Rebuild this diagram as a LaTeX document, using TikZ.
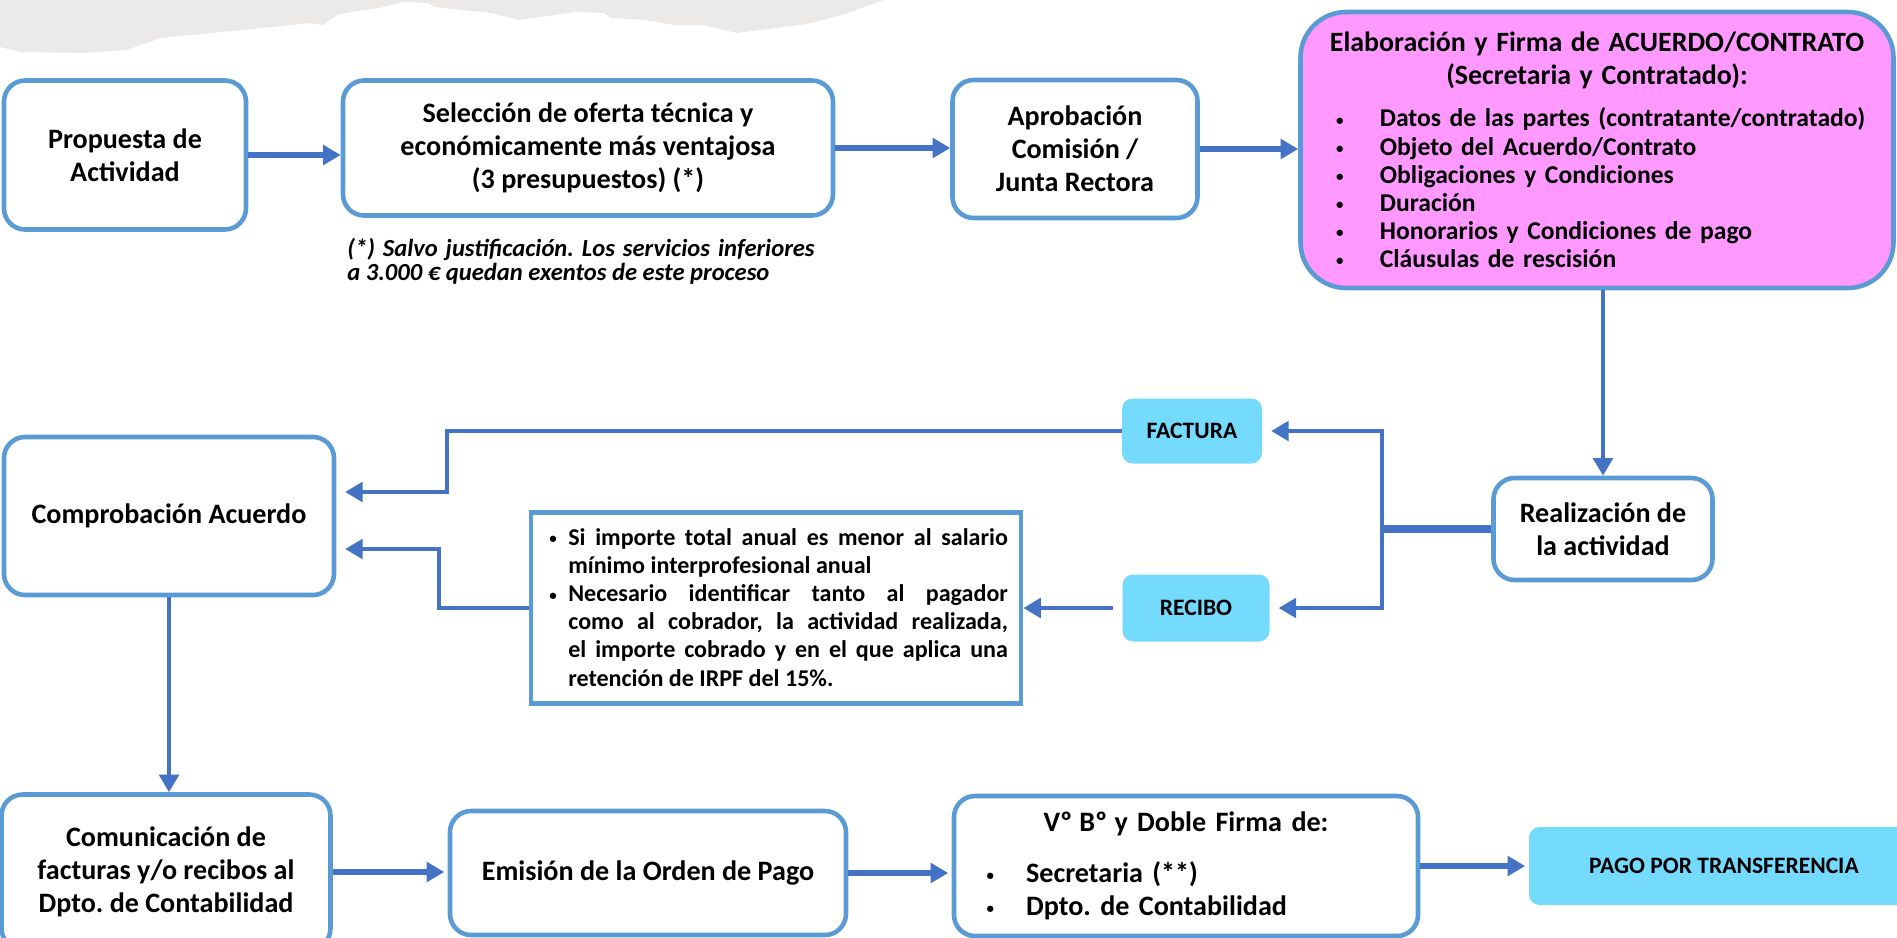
\documentclass[tikz,border=0pt]{standalone}
\usepackage{fontspec}
\setmainfont{Carlito}
\usetikzlibrary{arrows.meta}
\definecolor{borde}{RGB}{91,155,213}
\definecolor{azul}{RGB}{68,114,196}
\definecolor{cian}{RGB}{116,219,255}
\definecolor{rosa}{RGB}{255,153,255}
\definecolor{papel}{RGB}{235,234,232}
\frenchspacing
\newcommand{\punto}{\raisebox{1pt}{\fontsize{8.5}{8.5}\selectfont\textbullet}}
\newcommand{\vin}[3][0pt]{\par\noindent\hangindent=#2\hangafter=1\makebox[#2][l]{\hspace{#1}\punto}#3\par}
\newcommand{\ord}{º\kern-1.3pt}
\tikzset{
  paso/.style={draw=borde,line width=2.6pt,rounded corners=12pt,fill=white,align=center,inner sep=0pt,font=\bfseries\fontsize{16}{18.8}\selectfont},
  ficha/.style={fill=cian,rounded corners=6pt,inner sep=0pt,font=\bfseries\fontsize{13.4}{15}\selectfont},
  tam/.style 2 args={minimum width=#1*0.02cm,minimum height=#2*0.02cm},
  flecha/.style={azul,line width=3.2pt,-{Triangle[length=10pt,width=11pt]}},
  conector/.style={flecha,line width=2.6pt},
}
\begin{document}
\begin{tikzpicture}[x=0.02cm,y=-0.02cm]
\useasboundingbox (0,0) rectangle (1897,937);
\clip (0,0) rectangle (1897,937);
\fill[papel](0,0)--(0,47)--(21,52)--(84,53)--(126,50)--(161,38)--(211,33)--(253,29)--(309,23)--(323,25)--(337,15)--(351,12)--(379,8)--(404,2)--(428,3)--(435,7)--(491,13)--(519,20)--(575,12)--(604,13)--(611,18)--(646,20)--(674,25)--(702,25)--(737,33)--(807,24)--(842,15)--(870,5)--(884,0)--cycle;
%
\node[paso,tam={242}{149}](prop) at (125,155){Propuesta de\\Actividad};
\node[paso,tam={490}{135}](sel) at (588,148){Selección de oferta técnica y\\económicamente más ventajosa\\(3 presupuestos) (*)};
\node[paso,tam={245}{138}](apro) at (1075,149){Aprobación\\Comisión /\\Junta Rectora};
\node[paso,fill=rosa,rounded corners=26pt,tam={593}{276},text width=318pt,align=left,font=\bfseries\fontsize{14.6}{16}\selectfont](contrato) at (1597,150){{\centering\fontsize{15.9}{18.7}\selectfont Elaboración y Firma de ACUERDO/CONTRATO\\(Secretaria y Contratado):\par}\vspace{8pt}
\vin[10.5pt]{35.4pt}{Datos de las partes (contratante/contratado)}
\vin[10.5pt]{35.4pt}{Objeto del Acuerdo/Contrato}
\vin[10.5pt]{35.4pt}{Obligaciones y Condiciones}
\vin[10.5pt]{35.4pt}{Duración}
\vin[10.5pt]{35.4pt}{Honorarios y Condiciones de pago}
\vin[10.5pt]{35.4pt}{Cláusulas de rescisión}};
\node[anchor=north west,inner sep=0pt,text width=266pt,align=justify,font=\bfseries\itshape\fontsize{14}{13.5}\selectfont](salvo) at (347,238){(*) Salvo justificación. Los servicios inferiores\linebreak a 3.000 € quedan exentos de este proceso};
%
\node[paso,tam={330}{158}](comp) at (169,516){Comprobación Acuerdo};
\node[ficha,tam={140}{65}](fact) at (1192,431){FACTURA};
\node[ficha,tam={147}{67}](rec) at (1196,608){RECIBO};
\node[paso,tam={219}{102}](real) at (1603,529){Realización de\\la actividad};
\node[draw=borde,line width=2.6pt,fill=white,inner sep=0pt,tam={490}{191},text width=264pt,align=justify,font=\bfseries\fontsize{13.7}{16}\selectfont](cond) at (776,608){\vspace*{-7pt}\vin[3pt]{13.8pt}{Si importe total anual es menor al salario\linebreak mínimo interprofesional anual}
\vin[3pt]{13.8pt}{Necesario identificar tanto al pagador\linebreak como al cobrador, la actividad realizada,\linebreak el importe cobrado y en el que aplica una\linebreak retención de IRPF del 15\%.}};
%
\node[paso,tam={329}{155}](comu) at (166,872){Comunicación de\\facturas y/o recibos al\\Dpto. de Contabilidad};
\node[paso,tam={396}{124}](emis) at (648,873){Emisión de la Orden de Pago};
\node[paso,tam={464}{140},text width=227pt,align=left](vobo) at (1186,866){{\centering V\ord{} B\ord{} y Doble Firma de:\par}\vspace{10pt}
\vin{22.5pt}{Secretaria (**)}
\vin{22.5pt}{Dpto. de Contabilidad}};
\node[ficha,tam={390}{78}](pago) at (1724,866){PAGO POR TRANSFERENCIA};
%
\foreach \a/\b in {prop/sel,sel/apro,apro/contrato}{\draw[flecha](\a.east)--(\a.east-|\b.west);}
\draw[conector](real.north|-contrato.south)--(real.north);
\coordinate (rama) at (1382,529);
\draw[azul,line width=4.5pt](real.west)--(rama);
\draw[conector,shorten >=5pt](rama)|-(fact.east);
\draw[conector,shorten >=5pt](rama)|-(rec.east);
\coordinate (codoA) at (447,492);
\draw[conector,shorten >=5pt](fact.west)-|(codoA)--(codoA-|comp.east);
\coordinate (codoB) at (439,549);
\draw[conector,shorten >=5pt](cond.west)-|(codoB)--(codoB-|comp.east);
\draw[conector,shorten <=5pt](rec.west)--(rec.west-|cond.east);
\draw[conector](comp.south)--(comp.south|-comu.north);
\foreach \a/\b in {comu/emis,emis/vobo,vobo/pago}{\draw[flecha,shorten >=2pt](\a.east)--(\a.east-|\b.west);}
\end{tikzpicture}
\end{document}
